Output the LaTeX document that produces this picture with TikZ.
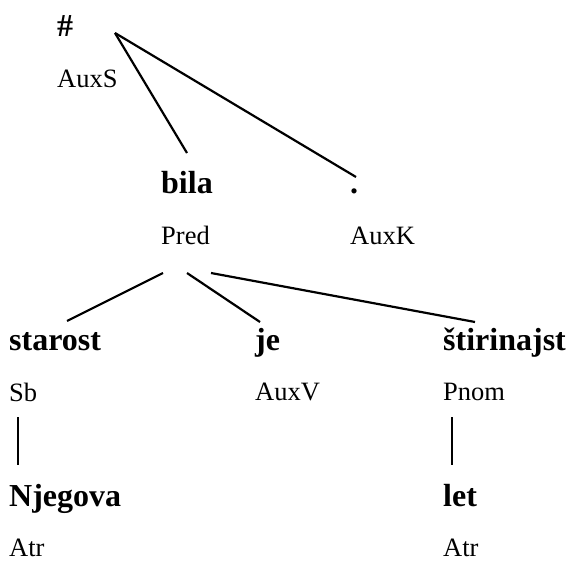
\documentclass[tikz,border=0pt]{standalone}
\usepackage{fontspec}
\setmainfont{Liberation Serif}
\begin{document}
\begin{tikzpicture}[x=1pt,y=-1pt,
  word/.style={anchor=base west, inner sep=0pt,
    font=\fontsize{32}{32}\selectfont\bfseries},
  afun/.style={anchor=base west, inner sep=0pt,
    font=\fontsize{26.5}{26.5}\selectfont},
  edge/.style={line width=2.2pt}]
\useasboundingbox (0,0) rectangle (572,561);

% tree nodes: word form above, analytical function below
\node[word] (root) at (57,37) {\#};
\node[afun] (rootF) at (57,88) {AuxS};

\node[word] (bila) at (161,194) {bila};
\node[afun] (bilaF) at (161,244) {Pred};

\node[word] (pika) at (350,194) {.};
\node[afun] (pikaF) at (350,244) {AuxK};

\node[word] (starost) at (9,350) {starost};
\node[afun] (starostF) at (9,401) {Sb};

\node[word] (je) at (255,350) {je};
\node[afun] (jeF) at (255,400) {AuxV};

\node[word] (stir) at (443,350) {štirinajst};
\node[afun] (stirF) at (443,400) {Pnom};

\node[word] (njeg) at (9,506) {Njegova};
\node[afun] (njegF) at (9,556) {Atr};

\node[word] (let) at (443,506) {let};
\node[afun] (letF) at (443,556) {Atr};

% attachment points of the edges
\coordinate (rootOut) at (115,33);
\coordinate (bilaIn) at (187,153);
\coordinate (pikaIn) at (356,177);
\coordinate (bilaOutA) at (163,273);
\coordinate (bilaOutB) at (187,273);
\coordinate (bilaOutC) at (211,273);
\coordinate (starostIn) at (67,321);
\coordinate (jeIn) at (260,322);
\coordinate (stirIn) at (475,322);
\coordinate (starostOut) at (18,417);
\coordinate (njegIn) at (18,465);
\coordinate (stirOut) at (452,417);
\coordinate (letIn) at (452,465);

% dependency edges
\draw[edge] (rootOut) -- (bilaIn);
\draw[edge] (rootOut) -- (pikaIn);
\draw[edge] (bilaOutA) -- (starostIn);
\draw[edge] (bilaOutB) -- (jeIn);
\draw[edge] (bilaOutC) -- (stirIn);
\draw[edge] (starostOut) -- (njegIn);
\draw[edge] (stirOut) -- (letIn);
\end{tikzpicture}
\end{document}
